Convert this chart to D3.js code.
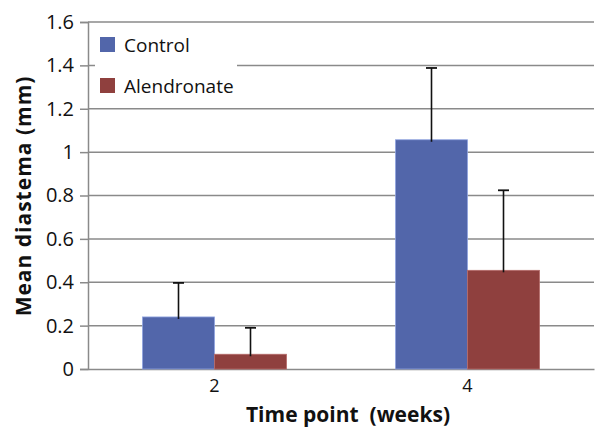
<!DOCTYPE html>
<html><head><meta charset="utf-8">
<script src="https://cdn.jsdelivr.net/npm/d3@7"></script>
<style>html,body{margin:0;padding:0;background:#fff;}svg{display:block;}text{white-space:pre;}</style>
</head><body>
<svg id="chart" width="595" height="428"></svg>
<script>
const categories = ["2", "4"];
const seriesNames = ["Control", "Alendronate"];
const controlMean = [0.24, 1.057];
const controlErr = [0.157, 0.331];
const alendronateMean = [0.068, 0.455];
const alendronateErr = [0.122, 0.369];
const yTicks = [0, 0.2, 0.4, 0.6, 0.8, 1, 1.2, 1.4, 1.6];
const colors = ["#5266AA", "#8F403E"];
const strokeColors = ["#8fa3e0", "#b56a68"];

const series = [
  {name: seriesNames[0], mean: controlMean, err: controlErr},
  {name: seriesNames[1], mean: alendronateMean, err: alendronateErr}
];

const svg = d3.select("#chart");
const L = 88, R = 594, T = 22, B = 369;
const font = "'Open Sans', 'DejaVu Sans', sans-serif";

const x = d3.scaleBand().domain(categories).range([L, R]);
const xs = d3.scaleBand().domain(seriesNames).range([0, 144]);
const y = d3.scaleLinear().domain([0, 1.6]).range([B, T]);

// gridlines
svg.append("g").selectAll("line").data(yTicks.filter(d => d > 0)).join("line")
  .attr("x1", L).attr("x2", R).attr("y1", d => y(d)).attr("y2", d => y(d))
  .attr("stroke", "#8a8a8a").attr("stroke-width", 1.5);

// y axis
const yAxis = d3.axisLeft(y).tickValues(yTicks).tickSize(8).tickPadding(6)
  .tickFormat(d => d3.format("")(+d.toFixed(1)));
const gy = svg.append("g").attr("transform", `translate(${L},0)`).call(yAxis);
gy.select(".domain").attr("stroke", "#8a8a8a").attr("stroke-width", 1.5);
gy.selectAll(".tick line").attr("stroke", "#8a8a8a").attr("stroke-width", 1.5);
gy.selectAll(".tick text").attr("font-family", font).attr("font-size", 20).attr("fill", "#111");

// x axis
const gx = svg.append("g").attr("transform", `translate(0,${B})`)
  .call(d3.axisBottom(x).tickSize(0).tickPadding(10));
gx.select(".domain").attr("stroke", "#8a8a8a").attr("stroke-width", 1.5);
gx.selectAll(".tick text").attr("font-family", font).attr("font-size", 18).attr("fill", "#111");

// bars
const bandPad = (x.bandwidth() - 144) / 2;
series.forEach((s, si) => {
  const g = svg.append("g");
  g.selectAll("rect").data(categories).join("rect")
    .attr("x", (c) => x(c) + bandPad + xs(s.name))
    .attr("width", xs.bandwidth())
    .attr("y", (c, i) => y(s.mean[i]))
    .attr("height", (c, i) => y(0) - y(s.mean[i]))
    .attr("fill", colors[si]).attr("stroke", strokeColors[si]).attr("stroke-width", 0.8);
  const cx = (c) => x(c) + bandPad + xs(s.name) + xs.bandwidth() / 2;
  g.selectAll("line.v").data(categories).join("line").attr("class", "v")
    .attr("x1", cx).attr("x2", cx)
    .attr("y1", (c, i) => y(s.mean[i]) + 2)
    .attr("y2", (c, i) => y(s.mean[i] + s.err[i]))
    .attr("stroke", "#111").attr("stroke-width", 1.6);
  g.selectAll("line.cap").data(categories).join("line").attr("class", "cap")
    .attr("x1", c => cx(c) - 5.5).attr("x2", c => cx(c) + 5.5)
    .attr("y1", (c, i) => y(s.mean[i] + s.err[i]))
    .attr("y2", (c, i) => y(s.mean[i] + s.err[i]))
    .attr("stroke", "#111").attr("stroke-width", 1.8);
});

// legend
const lg = svg.append("g");
lg.append("rect").attr("x", 95).attr("y", 28).attr("width", 142).attr("height", 72).attr("fill", "#fff");
seriesNames.forEach((n, i) => {
  lg.append("rect").attr("x", 100).attr("y", 37 + i * 41).attr("width", 15).attr("height", 15).attr("fill", colors[i]);
  lg.append("text").attr("x", 124).attr("y", 52 + i * 41).attr("font-family", font).attr("font-size", 19)
    .attr("fill", "#111").text(n);
});

// axis titles
svg.append("text").attr("x", 348).attr("y", 422).attr("text-anchor", "middle")
  .attr("font-family", font).attr("font-size", 21).attr("font-weight", "bold").attr("fill", "#111")
  .text("Time point  (weeks)");
svg.append("text").attr("transform", `translate(31,196) rotate(-90)`).attr("text-anchor", "middle")
  .attr("font-family", font).attr("font-size", 21).attr("font-weight", "bold").attr("fill", "#111")
  .attr("letter-spacing", 1)
  .text("Mean diastema (mm)");
</script>
</body></html>
